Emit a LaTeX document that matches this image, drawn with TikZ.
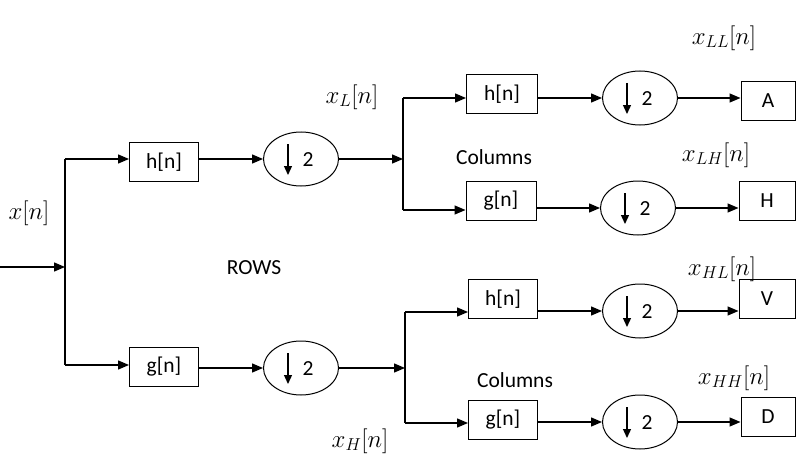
\documentclass[tikz,border=0pt]{standalone}
\usepackage{fontspec}
\setmainfont{Carlito}
\usetikzlibrary{arrows.meta,shapes.geometric}

\tikzset{
  txt/.style={font=\fontsize{21.5}{25}\selectfont},
  mth/.style={font=\fontsize{25}{29}\selectfont},
  filt/.style={draw,line width=1pt,minimum width=69pt,minimum height=39pt,inner sep=0pt,txt},
  outbox/.style={draw,line width=1pt,minimum width=54pt,minimum height=39pt,inner sep=0pt,txt},
  dnsmp/.style={ellipse,draw,line width=1pt,minimum width=75pt,minimum height=54pt,inner sep=0pt},
  sig/.style={-{Triangle[length=11pt,width=9pt]},line width=1.4pt},
  wire/.style={line width=1.4pt},
}

\begin{document}
\begin{tikzpicture}[x=1pt,y=-1pt]
  \useasboundingbox (0,0) rectangle (801,460);

  % filters and output boxes
  \node[filt] (h1) at (164,162) {h[n]};
  \node[filt] (g1) at (164,367) {g[n]};
  \node[filt,minimum width=71pt] (h2) at (502,94) {h[n]};
  \node[filt,minimum width=70pt] (g2) at (501,201) {g[n]};
  \node[filt] (h3) at (503,299) {h[n]};
  \node[filt] (g3) at (503,420) {g[n]};
  \node[outbox] (A) at (768,101) {A};
  \node[outbox,minimum width=56pt] (H) at (767,201) {H};
  \node[outbox,minimum width=56pt] (V) at (767,299) {V};
  \node[outbox] (D) at (768,417) {D};

  % downsamplers
  \foreach \nm/\px/\py in {d1/301/159, d2/301/368, d3/640/98, d4/638/208, d5/640/311, d6/640/422} {
    \node[dnsmp] (\nm) at (\px,\py) {};
    \draw[-{Triangle[length=9pt,width=8pt]},line width=1.3pt]
      ([xshift=-13pt,yshift=15pt]\nm.center) -- ([xshift=-13pt,yshift=-16pt]\nm.center);
    \node[txt] (\nm-two) at ([xshift=7pt,yshift=-1pt]\nm.center) {2};
  }

  % junctions
  \coordinate (in) at (0,267);
  \coordinate (j0) at (65,267);
  \coordinate (j0t) at (65,159);
  \coordinate (j0b) at (65,365);
  \coordinate (j1) at (403,159);
  \coordinate (j1t) at (403,98);
  \coordinate (j1b) at (403,210);
  \coordinate (j2) at (405,368);
  \coordinate (j2t) at (405,312);
  \coordinate (j2b) at (405,423);

  % rows
  \draw[sig] (in) -- (j0);
  \draw[wire] (j0t) -- (j0b);
  \draw[sig] (j0t) -- (j0t -| h1.west);
  \draw[sig] (j0b) -- (j0b -| g1.west);
  \draw[sig] (d1.west -| h1.east) -- (d1.west);
  \draw[sig] (d2.west -| g1.east) -- (d2.west);
  \draw[sig] (d1.east) -- (j1);
  \draw[sig] (d2.east) -- (j2);

  % columns
  \draw[wire] (j1t) -- (j1b);
  \draw[wire] (j2t) -- (j2b);
  \draw[sig] (j1t) -- (j1t -| h2.west);
  \draw[sig] (j1b) -- (j1b -| g2.west);
  \draw[sig] (j2t) -- (j2t -| h3.west);
  \draw[sig] (j2b) -- (j2b -| g3.west);
  \draw[sig] (d3.west -| h2.east) -- (d3.west);
  \draw[sig] (d4.west -| g2.east) -- (d4.west);
  \draw[sig] (d5.west -| h3.east) -- (d5.west);
  \draw[sig] (d6.west -| g3.east) -- (d6.west);
  \draw[sig] (d3.east) -- (d3.east -| A.west);
  \draw[sig] (d4.east) -- (d4.east -| H.west);
  \draw[sig] (d5.east) -- (d5.east -| V.west);
  \draw[sig] (d6.east) -- (d6.east -| D.west);

  % labels
  \node[mth] (xin) at (29,213) {$x\big[n\big]$};
  \node[mth] (xl) at (352,97) {$x_{L}\big[n\big]$};
  \node[mth] (xh) at (360,441) {$x_{H}\big[n\big]$};
  \node[mth] (xll) at (724,38) {$x_{LL}\big[n\big]$};
  \node[mth] (xlh) at (716,155) {$x_{LH}\big[n\big]$};
  \node[mth] (xhl) at (722,269) {$x_{HL}\big[n\big]$};
  \node[mth] (xhh) at (734,378) {$x_{HH}\big[n\big]$};
  \node[txt] (rows) at (254,268) {ROWS};
  \node[txt] (colt) at (494,157) {Columns};
  \node[txt] (colb) at (515,380) {Columns};
\end{tikzpicture}
\end{document}
